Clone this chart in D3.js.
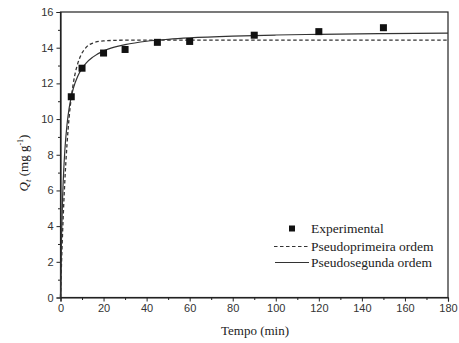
<!DOCTYPE html>
<html><head><meta charset="utf-8">
<script src="https://cdn.jsdelivr.net/npm/d3@7"></script>
<style>body{margin:0;background:#fff}svg{display:block}</style>
</head><body>
<script>
// Experimental data
const expTime = [5, 10, 20, 30, 45, 60, 90, 120, 150];
const expQ    = [11.25, 12.85, 13.7, 13.9, 14.3, 14.35, 14.7, 14.9, 15.12];
// Pseudo-first order curve
const pfoTime = [0, 0.5, 1, 1.5, 2, 3, 4, 5, 6, 7, 8, 10, 12, 15, 20, 25, 30, 40, 60, 90, 120, 150, 180];
const pfoQ    = [0, 2.01, 3.74, 5.22, 6.5, 8.55, 10.08, 11.2, 12.04, 12.66, 13.11, 13.7, 14.03, 14.26, 14.38, 14.41, 14.42, 14.42, 14.42, 14.42, 14.42, 14.42, 14.42];
// Pseudo-second order curve
const psoTime = [0, 0.5, 1, 1.5, 2, 3, 4, 5, 6, 8, 10, 12, 15, 20, 25, 30, 40, 50, 60, 80, 100, 120, 150, 180];
const psoQ    = [0, 3.49, 5.66, 7.13, 8.21, 9.66, 10.6, 11.25, 11.74, 12.4, 12.84, 13.15, 13.47, 13.82, 14.03, 14.17, 14.36, 14.47, 14.55, 14.65, 14.71, 14.75, 14.79, 14.82];
const xTicks = [0, 20, 40, 60, 80, 100, 120, 140, 160, 180];
const yTicks = [0, 2, 4, 6, 8, 10, 12, 14, 16];
const legendLabels = ["Experimental", "Pseudoprimeira ordem", "Pseudosegunda ordem"];

const W = 459, H = 343;
const m = {l: 60.5, r: 11, t: 12, b: 45.5};
const serif = "'Liberation Serif', 'Times New Roman', Times, serif";
const sans = "'Liberation Sans', Arial, sans-serif";
const svg = d3.select("body").append("svg").attr("width", W).attr("height", H);
const x = d3.scaleLinear().domain([0, 180]).range([m.l, W - m.r]);
const y = d3.scaleLinear().domain([0, 16]).range([H - m.b, m.t]);
const ink = "#222";

// frame (top/right)
svg.append("rect").attr("x", x(0)).attr("y", y(16)).attr("width", x(180) - x(0)).attr("height", y(0) - y(16))
  .attr("fill", "none").attr("stroke", ink).attr("stroke-width", 1.2);

// X axis
svg.append("g").attr("transform", `translate(0,${y(0)})`)
  .call(d3.axisBottom(x).tickValues(xTicks).tickSize(4).tickPadding(3).tickFormat(d3.format("d")));
svg.append("g").attr("transform", `translate(0,${y(0)})`)
  .call(d3.axisBottom(x).tickValues(d3.range(10, 180, 20)).tickSize(2.5).tickFormat(""))
  .select(".domain").remove();
// Y axis
svg.append("g").attr("transform", `translate(${x(0)},0)`)
  .call(d3.axisLeft(y).tickValues(yTicks).tickSize(4).tickPadding(3).tickFormat(d3.format("d")));
svg.append("g").attr("transform", `translate(${x(0)},0)`)
  .call(d3.axisLeft(y).tickValues(d3.range(1, 16, 2)).tickSize(2.5).tickFormat(""))
  .select(".domain").remove();
svg.selectAll(".domain").attr("stroke", ink).attr("stroke-width", 1.2);
svg.selectAll(".tick line").attr("stroke", ink).attr("stroke-width", 1);
svg.selectAll(".tick text").attr("font-family", sans).attr("font-size", 11).attr("fill", "#333");

// curves
const line = d3.line().x(d => x(d[0])).y(d => y(d[1])).curve(d3.curveMonotoneX);
svg.append("path").datum(pfoTime.map((t, i) => [t, pfoQ[i]])).attr("d", line)
  .attr("fill", "none").attr("stroke", "#333").attr("stroke-width", 1.3).attr("stroke-dasharray", "3.5,2.5");
svg.append("path").datum(psoTime.map((t, i) => [t, psoQ[i]])).attr("d", line)
  .attr("fill", "none").attr("stroke", "#333").attr("stroke-width", 1.2);

// points
const s = 7;
svg.selectAll(".pt").data(expTime.map((t, i) => [t, expQ[i]])).join("rect")
  .attr("x", d => x(d[0]) - s / 2).attr("y", d => y(d[1]) - s / 2).attr("width", s).attr("height", s).attr("fill", "#111");

// axis titles
svg.append("text").attr("x", 255).attr("y", 335).attr("text-anchor", "middle")
  .style("font-family", serif).attr("font-size", 13).attr("fill", "#222").text("Tempo (min)");
const yt = svg.append("text").attr("transform", `translate(28,163) rotate(-90)`).attr("text-anchor", "middle")
  .style("font-family", serif).attr("font-size", 13).attr("fill", "#222");
yt.append("tspan").attr("font-style", "italic").text("Q");
yt.append("tspan").attr("font-style", "italic").attr("font-size", 9).attr("dy", 3).text("t");
yt.append("tspan").attr("dy", -3).text(" (mg g");
yt.append("tspan").attr("font-size", 8).attr("dy", -5).text("-1");
yt.append("tspan").attr("dy", 5).text(")");

// legend
const lg = svg.append("g").style("font-family", serif).attr("font-size", 13.5).attr("fill", "#222");
const ly = [228.5, 246.5, 262.5];
lg.append("rect").attr("x", 292 - 3).attr("y", ly[0] - 3).attr("width", 6).attr("height", 6).attr("fill", "#111");
lg.append("line").attr("x1", 274).attr("x2", 309).attr("y1", ly[1]).attr("y2", ly[1]).attr("stroke", "#333").attr("stroke-width", 1.2).attr("stroke-dasharray", "3.5,2.5");
lg.append("line").attr("x1", 275).attr("x2", 309).attr("y1", ly[2]).attr("y2", ly[2]).attr("stroke", "#333").attr("stroke-width", 1.2);
legendLabels.forEach((t, i) => lg.append("text").attr("x", 311).attr("y", ly[i] + 4.5).text(t));
</script>
</body></html>
